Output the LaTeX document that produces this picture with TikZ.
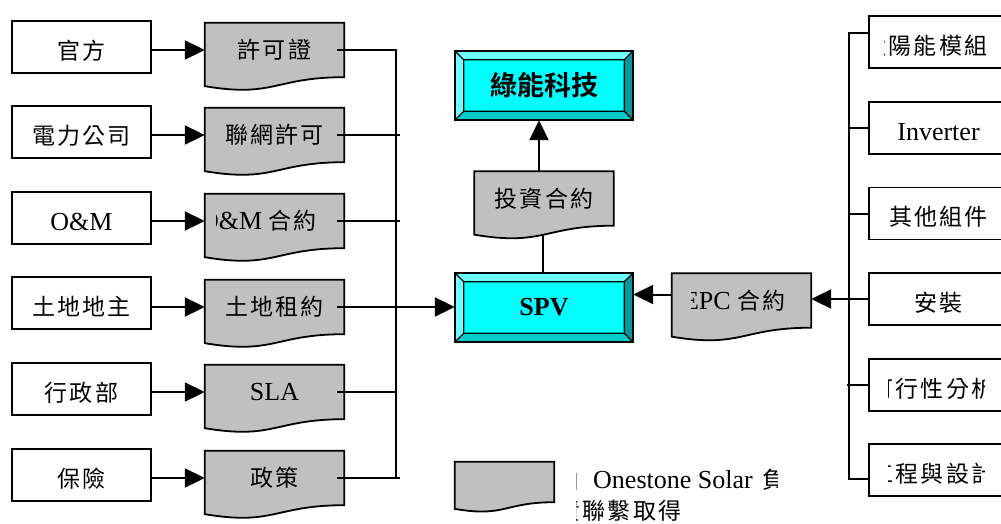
\documentclass[tikz,border=0pt]{standalone}
\usepackage{fontspec}
\setmainfont{Liberation Serif}
\newfontfamily\cjk[LetterSpace=10]{Noto Sans CJK TC}
\newfontfamily\cjkbold{Noto Sans CJK TC Bold}
\usetikzlibrary{arrows.meta,calc,backgrounds}

\definecolor{docgray}{RGB}{192,192,192}
\definecolor{bevlight}{RGB}{110,255,255}
\definecolor{bevface}{RGB}{0,255,255}
\definecolor{bevdark}{RGB}{0,153,153}
\definecolor{bevlow}{RGB}{0,204,204}

% Chinese text run at its own size
\newcommand\zh[1]{{\fontsize{23}{28}\cjk #1}}

% wavy-bottom document outline around a rectangular node
\newcommand\docshape[1]{%
  \filldraw[fill=docgray,line width=1.8pt,line join=miter]
    (#1.north west) -- (#1.north east) -- (#1.south east)
    .. controls (#1.south) and ($(#1.north)!1.381!(#1.south)$)
    .. ($(#1.north west)!1.1646!(#1.south west)$) -- cycle;}

% bevelled button frame around a rectangular node
\newcommand\bevel[1]{%
  \coordinate (#1-a) at ($(#1.north west)+(9,9)$);
  \coordinate (#1-b) at ($(#1.north east)+(-9,9)$);
  \coordinate (#1-c) at ($(#1.south east)+(-9,-9)$);
  \coordinate (#1-d) at ($(#1.south west)+(9,-9)$);
  \fill[bevlight] (#1.north west) -- (#1.north east) -- (#1-b) -- (#1-a) -- cycle;
  \fill[bevlight] (#1.north west) -- (#1-a) -- (#1-d) -- (#1.south west) -- cycle;
  \fill[bevdark] (#1.north east) -- (#1.south east) -- (#1-c) -- (#1-b) -- cycle;
  \fill[bevlow] (#1.south west) -- (#1.south east) -- (#1-c) -- (#1-d) -- cycle;
  \fill[bevface] (#1-a) rectangle (#1-c);
  \draw[line width=1.3pt] (#1-a) rectangle (#1-c)
    (#1.north west) -- (#1-a) (#1.north east) -- (#1-b)
    (#1.south east) -- (#1-c) (#1.south west) -- (#1-d);
  \draw[line width=1.8pt] (#1.north west) rectangle (#1.south east);}

\begin{document}
\begin{tikzpicture}[x=1pt,y=-1pt,
  ln/.style={line width=2pt},
  arr/.style={line width=2pt,-{Triangle[length=20pt,width=19pt]}},
  srcbox/.style={draw,line width=1.8pt,fill=white,minimum width=139pt,
    minimum height=52pt,inner sep=0pt,text height=24pt,text depth=0pt,
    font=\fontsize{26}{30}\selectfont},
  docbox/.style={minimum width=139pt,minimum height=54pt,inner sep=0pt,
    font=\fontsize{26}{30}\selectfont},
  bevbox/.style={minimum width=178pt,minimum height=69pt,inner sep=0pt},
  txt/.style={inner sep=0pt,font=\fontsize{26}{30}\selectfont},
  srctxt/.style={txt,text height=24pt,text depth=0pt,anchor=west},
]
\useasboundingbox (0,0) rectangle (1001,523);
\clip (0,0) rectangle (1001,523);

% ---- sources on the left
\node[srcbox] (b1) at (81.5,47)  {\zh{官方}};
\node[srcbox] (b2) at (81.5,132) {\zh{電力公司}};
\node[srcbox] (b3) at (81.5,218) {O\&M};
\node[srcbox] (b4) at (81.5,303) {\zh{土地地主}};
\node[srcbox] (b5) at (81.5,389) {\zh{行政部}};
\node[srcbox] (b6) at (81.5,475) {\zh{保險}};

% ---- documents obtained from them
\node[docbox] (d1) at (274.5,50)  {\zh{許可證}};
\node[docbox] (d2) at (274.5,135) {\zh{聯網許可}};
\node[docbox] (d3) at (274.5,221) {};
\node[docbox] (d4) at (274.5,307) {\zh{土地租約}};
\node[docbox] (d5) at (274.5,392) {SLA};
\node[docbox] (d6) at (274.5,478) {\zh{政策}};
\begin{scope}
  \clip ([xshift=12pt]d3.north west) rectangle ([xshift=-19pt]d3.south east);
  \node[txt,anchor=west] (d3t) at ([xshift=-5pt]d3.west) {O\&M \zh{合約}};
\end{scope}

% ---- central entities
\node[bevbox] (top) at (544,85.5)
  {\fontsize{27}{30}\cjkbold 綠能科技};
\node[bevbox] (spv) at (544,307.5)
  {\fontsize{26}{30}\selectfont\bfseries SPV};
\node[docbox] (inv) at (544,198.5) {\zh{投資合約}};
\node[docbox] (epc) at (741.5,300.5) {};
\begin{scope}
  \clip ([xshift=20pt]epc.north west) rectangle ([xshift=-6pt]epc.south east);
  \node[txt,anchor=west] (epct) at ([xshift=11pt]epc.west) {EPC \zh{合約}};
\end{scope}

% ---- EPC scope items on the right
\node[srcbox] (r1) at (938.5,42)    {};
\node[srcbox] (r2) at (938.5,128)   {Inverter};
\node[srcbox] (r3) at (938.5,213.5) {\zh{其他組件}};
\node[srcbox] (r4) at (938.5,299)   {\zh{安裝}};
\node[srcbox] (r5) at (938.5,385)   {};
\node[srcbox] (r6) at (938.5,470)   {};
\begin{scope}
  \clip ([xshift=16pt]r1.north west) rectangle ([xshift=118pt]r1.south west);
  \node[srctxt] (r1t) at ([xshift=-5pt]r1.west) {\zh{太陽能模組}};
\end{scope}
\begin{scope}
  \clip ([xshift=20pt]r5.north west) rectangle ([xshift=116pt]r5.south west);
  \node[srctxt] (r5t) at ([xshift=2pt]r5.west) {\zh{可行性分析}};
\end{scope}
\begin{scope}
  \clip ([xshift=20pt]r6.north west) rectangle ([xshift=116pt]r6.south west);
  \node[srctxt] (r6t) at ([xshift=2pt]r6.west) {\zh{工程與設計}};
\end{scope}

% ---- legend
\node[minimum width=99pt,minimum height=40pt,inner sep=0pt] (leg) at (504.5,482) {};
\begin{scope}
  \clip (576,455) rectangle (777,523);
  \node[txt,anchor=base west] (leg1) at (556,488)
    {\zh{由}\hspace{14pt}Onestone Solar\hspace{10pt}\zh{負}};
  \node[txt,anchor=base west] (leg2) at (557,519) {\zh{責聯繫取得}};
\end{scope}

% ---- shaded shapes behind the texts
\begin{scope}[on background layer]
  \docshape{d1}\docshape{d2}\docshape{d3}
  \docshape{d4}\docshape{d5}\docshape{d6}
  \docshape{inv}\docshape{epc}\docshape{leg}
  \bevel{top}\bevel{spv}
\end{scope}

% ---- connectors
\foreach \i in {1,...,6}
  \draw[arr] (b\i.east |- d\i.west) -- (d\i.west);

\coordinate (bx) at (396,0);
\coordinate (bx2) at (400,0);
\draw[ln] ([xshift=-7pt]d1.east) -- (d1.east -| bx) -- (d6.east -| bx);
\draw[ln] ([xshift=-7pt]d2.east) -- (d2.east -| bx2);
\draw[ln] ([xshift=-7pt]d3.east) -- (d3.east -| bx2);
\draw[ln] ([xshift=-7pt]d5.east) -- (d5.east -| bx);
\draw[ln] ([xshift=-7pt]d6.east) -- (d6.east -| bx2);
\draw[arr] ([xshift=-7pt]d4.east) -- (d4.east -| spv.west);

\draw[arr] ([xshift=-5pt]inv.north) -- ([xshift=-5pt]top.south);
\draw[ln] ([xshift=-1pt,yshift=-9pt]inv.south) -- ([xshift=-1pt]spv.north);

\draw[ln] ([yshift=9pt]r1.west) -- ++(-19,0) |- ([yshift=-9pt]r6.west);
\draw[ln] (r2.west) -- ++(-19,0);
\draw[ln] (r3.west) -- ++(-19,0);
\draw[ln] (r5.west) -- ++(-21,0);
\draw[arr] (r4.west) -- (r4.west -| epc.east);
\coordinate (ea) at ([yshift=6pt]epc.west);
\draw[arr] (ea) -- (ea -| spv.east);
\end{tikzpicture}
\end{document}
